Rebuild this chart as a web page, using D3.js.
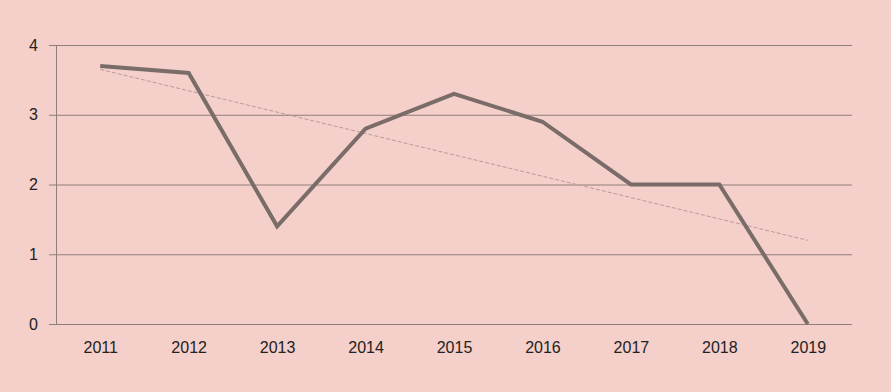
<!DOCTYPE html>
<html>
<head>
<meta charset="utf-8">
<script src="https://cdn.jsdelivr.net/npm/d3@7"></script>
<style>
  body { margin: 0; background: #f5cfc9; }
  svg { display: block; font-family: Lato, "Open Sans", sans-serif; }
</style>
</head>
<body>
<div id="chart"></div>
<script>
// Data
const years = ["2011", "2012", "2013", "2014", "2015", "2016", "2017", "2018", "2019"]
const values = [3.7, 3.6, 1.4, 2.8, 3.3, 2.9, 2.0, 2.0, 0]
const trendYears = ["2011", "2019"]
const trendValues = [3.65, 1.2]
const yTicks = [0, 1, 2, 3, 4]

// Dimensions
let dimensions = {
    width: 891,
    height: 392,
    margin: { top: 45, right: 39, bottom: 68, left: 56 },
}
dimensions.boundedWidth = dimensions.width - dimensions.margin.left - dimensions.margin.right
dimensions.boundedHeight = dimensions.height - dimensions.margin.top - dimensions.margin.bottom

const svg = d3.select("#chart")
    .append("svg")
        .attr("width", dimensions.width)
        .attr("height", dimensions.height)

svg.append("rect")
    .attr("width", dimensions.width)
    .attr("height", dimensions.height)
    .attr("fill", "#f5cfc9")

const bounds = svg.append("g")
    .attr("transform", `translate(${dimensions.margin.left},${dimensions.margin.top})`)

// Scales
const xScale = d3.scalePoint()
    .domain(years)
    .range([0, dimensions.boundedWidth])
    .padding(0.5)

const yScale = d3.scaleLinear()
    .domain([0, 4])
    .range([dimensions.boundedHeight, 0])

// Gridlines + y axis
const yAxisGenerator = d3.axisLeft(yScale)
    .tickValues(yTicks)
    .tickSize(-dimensions.boundedWidth)
    .tickPadding(18)
    .tickFormat(d3.format("d"))
const yAxis = bounds.append("g")
    .call(yAxisGenerator)
yAxis.select(".domain").remove()
yAxis.selectAll(".tick line")
    .attr("x1", -7)
    .attr("stroke", "#8f7f7c")
    .attr("stroke-width", 1)
yAxis.selectAll(".tick text")
    .attr("fill", "#222")
    .style("font-size", "16px")

bounds.append("line")
    .attr("x1", 0.5)
    .attr("x2", 0.5)
    .attr("y1", 0)
    .attr("y2", dimensions.boundedHeight)
    .attr("stroke", "#8f7f7c")

// x axis labels
const xAxisGenerator = d3.axisBottom(xScale)
    .tickSize(0)
    .tickPadding(18)
const xAxis = bounds.append("g")
    .attr("transform", `translate(0,${dimensions.boundedHeight})`)
    .call(xAxisGenerator)
xAxis.select(".domain").remove()
xAxis.selectAll(".tick text")
    .attr("fill", "#222")
    .style("font-size", "16px")

// Trend line
const trendData = trendYears.map((y, i) => ({ year: y, value: trendValues[i] }))
const lineGenerator = d3.line()
    .x(d => xScale(d.year))
    .y(d => yScale(d.value))
bounds.append("path")
    .attr("d", lineGenerator(trendData))
    .attr("fill", "none")
    .attr("stroke", "#b89c98")
    .attr("stroke-width", 1)
    .attr("stroke-dasharray", "4 2")

// Data line
const dataset = years.map((y, i) => ({ year: y, value: values[i] }))
bounds.append("path")
    .attr("d", lineGenerator(dataset))
    .attr("fill", "none")
    .attr("stroke", "#7a6c68")
    .attr("stroke-width", 4)
    .attr("stroke-linejoin", "miter")
</script>
</body>
</html>
